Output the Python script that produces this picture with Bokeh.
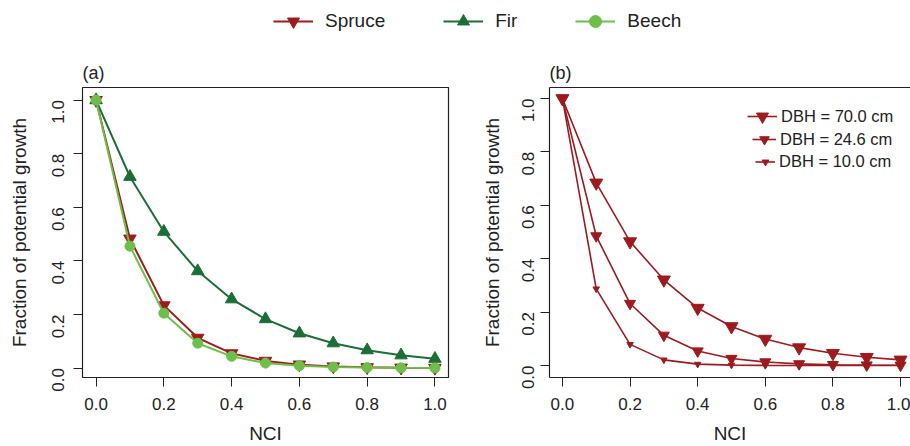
import math
from bokeh.plotting import figure
from bokeh.models import Legend, LegendItem, FixedTicker, Range1d, LinearAxis, PrintfTickFormatter
from bokeh.layouts import column, row
from bokeh.embed import file_html
from bokeh.resources import INLINE

# ---- data ----
nci = [0.0, 0.1, 0.2, 0.3, 0.4, 0.5, 0.6, 0.7, 0.8, 0.9, 1.0]
spruce = [1.0, 0.483, 0.234, 0.113, 0.055, 0.027, 0.013, 0.006, 0.003, 0.0015, 0.0007]
fir = [1.0, 0.714, 0.509, 0.362, 0.257, 0.183, 0.130, 0.093, 0.067, 0.048, 0.035]
beech = [1.0, 0.455, 0.205, 0.093, 0.044, 0.019, 0.009, 0.004, 0.002, 0.001, 0.0004]
dbh70 = [1.0, 0.684, 0.464, 0.321, 0.215, 0.146, 0.099, 0.067, 0.046, 0.031, 0.021]
dbh246 = [1.0, 0.485, 0.232, 0.113, 0.054, 0.026, 0.013, 0.006, 0.003, 0.0015, 0.0007]
dbh10 = [1.0, 0.287, 0.079, 0.021, 0.005, 0.0015, 0.0004, 0.0001, 0.0, 0.0, 0.0]
tick_vals = [0.0, 0.2, 0.4, 0.6, 0.8, 1.0]
species_labels = ["Spruce", "Fir", "Beech"]
dbh_labels = ["DBH = 70.0 cm", "DBH = 24.6 cm", "DBH = 10.0 cm"]

RED = "#9B1B1E"
DGREEN = "#1C6E37"
LGREEN = "#6DBF4A"
FONT = "Liberation Sans"


def style(p, title):
    p.xgrid.visible = False
    p.ygrid.visible = False
    p.title.text = title
    p.title.align = "left"
    p.title.offset = 0
    p.title.standoff = 9
    p.title.text_font = FONT
    p.title.text_font_size = "18px"
    p.title.text_font_style = "normal"
    p.title.text_color = "#222222"
    for ax in (p.xaxis[0], p.yaxis[0]):
        ax.ticker = FixedTicker(ticks=tick_vals)
        ax.formatter = PrintfTickFormatter(format="%.1f")
        ax.minor_tick_line_color = None
        ax.major_tick_in = 0
        ax.major_tick_out = 9
        ax.major_tick_line_color = "#222222"
        ax.major_label_text_font = FONT
        ax.major_label_text_font_size = "17px"
        ax.major_label_text_color = "#222222"
        ax.axis_label_text_font = FONT
        ax.axis_label_text_font_size = "19px"
        ax.axis_label_text_font_style = "normal"
        ax.axis_label_text_color = "#222222"
    p.xaxis[0].axis_label = "NCI"
    p.yaxis[0].axis_label = "Fraction of potential growth"
    p.yaxis[0].major_label_orientation = math.pi / 2
    p.xaxis[0].major_label_standoff = 11
    p.xaxis[0].axis_label_standoff = 10


# ---- legend strip ----
leg = figure(width=910, height=56, toolbar_location=None, output_backend="svg",
             x_axis_type=None, y_axis_type=None, min_border=0,
             x_range=Range1d(10, 11), y_range=Range1d(10, 11))
leg.outline_line_color = None
leg.xgrid.visible = False
leg.ygrid.visible = False
items = []
for lab, ys, col, mk, sz in [(species_labels[0], spruce, RED, "inverted_triangle", 12),
                             (species_labels[1], fir, DGREEN, "triangle", 12),
                             (species_labels[2], beech, LGREEN, "circle", 9)]:
    lr = leg.line(nci, ys, line_color=col, line_width=2)
    sr = leg.scatter(nci, ys, marker=mk, size=sz, fill_color=col, line_color=col)
    items.append(LegendItem(label=lab, renderers=[lr, sr]))
top_legend = Legend(items=items, orientation="horizontal", location=(273, 20),
                    glyph_width=40, glyph_height=30, label_standoff=12, spacing=58,
                    padding=0, margin=0, border_line_color=None, background_fill_alpha=0,
                    label_text_font=FONT, label_text_font_size="19px", label_text_color="#222222")
leg.add_layout(top_legend, "center")

# ---- panel (a) ----
pa = figure(width=478, height=390, toolbar_location=None, output_backend="svg",
            x_range=Range1d(-0.04, 1.04), y_range=Range1d(-0.035, 1.047),
            min_border_left=82, min_border_right=30, min_border_top=31, min_border_bottom=67)
style(pa, "(a)")
pa.outline_line_color = "#222222"
pa.outline_line_width = 1.2
pa.xaxis[0].axis_line_color = None
pa.yaxis[0].axis_line_color = None
pa.yaxis[0].major_label_standoff = 15
pa.yaxis[0].axis_label_standoff = 14
for ys, col, mk, sz in [(spruce, RED, "inverted_triangle", 12.5),
                        (fir, DGREEN, "triangle", 12.5),
                        (beech, LGREEN, "circle", 10)]:
    pa.line(nci, ys, line_color=col, line_width=2)
    pa.scatter(nci, ys, marker=mk, size=sz, fill_color=col, line_color=col)

# ---- panel (b) ----
pb = figure(width=432, height=390, toolbar_location=None, output_backend="svg",
            x_range=Range1d(-0.0382, 1.0294), y_range=Range1d(-0.045, 1.041),
            min_border_left=69, min_border_right=0, min_border_top=31, min_border_bottom=67)
style(pb, "(b)")
pb.outline_line_color = None
pb.xaxis[0].axis_line_color = "#222222"
pb.xaxis[0].axis_line_width = 1.2
pb.yaxis[0].axis_line_color = "#222222"
pb.yaxis[0].axis_line_width = 1.2
pb.yaxis[0].major_label_standoff = 12
pb.yaxis[0].axis_label_standoff = 11
topax = LinearAxis(ticker=FixedTicker(ticks=[]), major_label_text_font_size="0px",
                   axis_line_color="#222222", axis_line_width=1.2,
                   major_tick_line_color=None, minor_tick_line_color=None)
pb.add_layout(topax, "above")

specs = [(dbh70, 13, 30, 30, (198, 246)),
         (dbh246, 11, 24, 24, (203, 226)),
         (dbh10, 6.5, 20, 17, (206, 206))]
for (ys, sz, gw, gh, loc), lab in zip(specs, dbh_labels):
    lr = pb.line(nci, ys, line_color=RED, line_width=1.6)
    sr = pb.scatter(nci, ys, marker="inverted_triangle", size=sz, fill_color=RED, line_color=RED)
    lg = Legend(items=[LegendItem(label=lab, renderers=[lr, sr])], location=loc,
                glyph_width=gw, glyph_height=gh, label_standoff=4, padding=0, margin=0,
                border_line_color=None, background_fill_alpha=0,
                label_text_font=FONT, label_text_font_size="16.5px", label_text_color="#222222")
    pb.add_layout(lg, "center")

layout = column(leg, row(pa, pb))
open("out.html", "w").write(file_html(layout, INLINE))
